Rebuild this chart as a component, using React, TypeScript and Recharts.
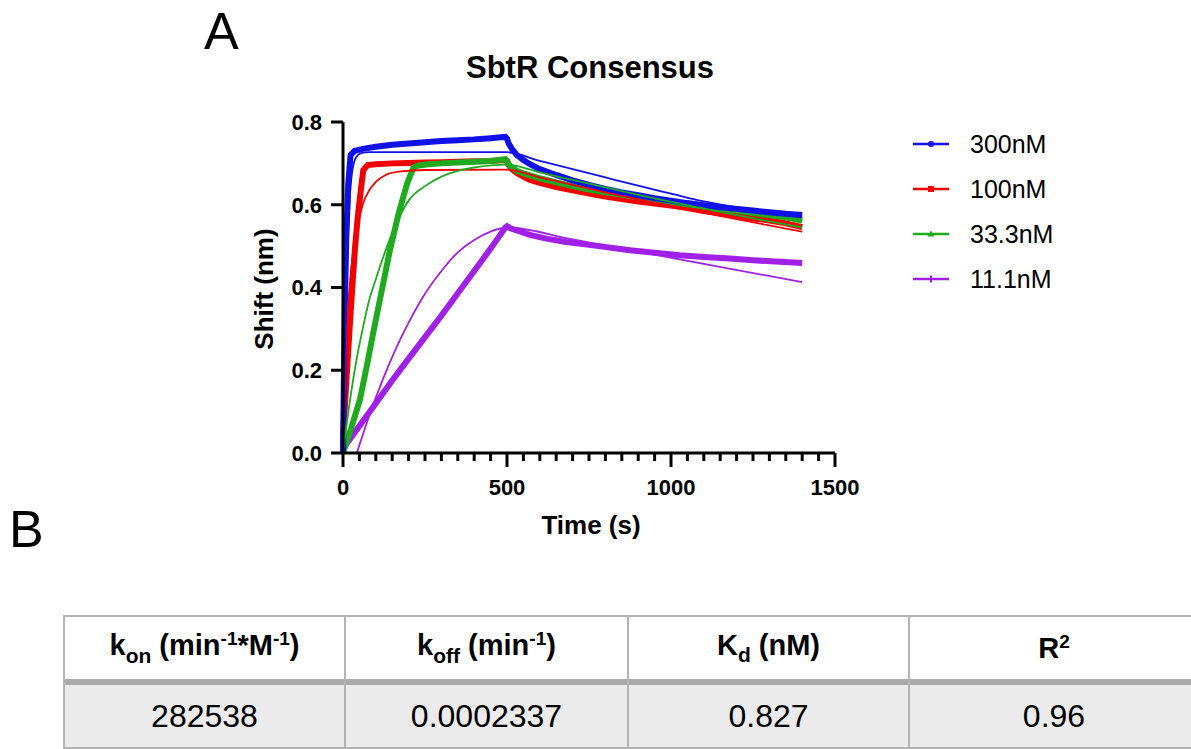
import React from "react";
import { LineChart, Line, XAxis, YAxis } from "recharts";

// measured traces (time s, shift nm)
const t300 = [0, 3, 6, 10, 16, 23, 35, 60, 100, 150, 200, 250, 300, 350, 400, 450, 480, 495, 500, 505, 515, 530, 550, 570, 600, 650, 700, 750, 800, 850, 900, 950, 1000, 1050, 1100, 1150, 1200, 1250, 1300, 1350, 1400];
const v300 = [0, 0.2, 0.37, 0.52, 0.65, 0.72, 0.73, 0.735, 0.74, 0.745, 0.748, 0.751, 0.754, 0.756, 0.758, 0.761, 0.763, 0.764, 0.76, 0.748, 0.735, 0.72, 0.708, 0.698, 0.686, 0.672, 0.659, 0.648, 0.638, 0.63, 0.623, 0.616, 0.61, 0.604, 0.599, 0.594, 0.59, 0.586, 0.582, 0.578, 0.575];

const t100 = [0, 1, 10, 20, 30, 37, 45, 55, 62, 75, 100, 150, 200, 250, 300, 350, 400, 450, 495, 500, 505, 515, 530, 550, 570, 600, 650, 700, 750, 800, 850, 900, 950, 1000, 1050, 1100, 1150, 1200, 1250, 1300, 1350, 1400];
const v100 = [0, 0.05, 0.17, 0.3, 0.42, 0.5, 0.57, 0.64, 0.684, 0.696, 0.698, 0.7, 0.701, 0.702, 0.703, 0.704, 0.705, 0.706, 0.708, 0.705, 0.697, 0.686, 0.677, 0.668, 0.66, 0.653, 0.643, 0.635, 0.627, 0.62, 0.614, 0.608, 0.603, 0.598, 0.592, 0.585, 0.579, 0.573, 0.567, 0.562, 0.555, 0.546];

const t33 = [0, 25, 52, 75, 92, 115, 143, 170, 195, 215, 230, 260, 300, 350, 400, 450, 495, 500, 505, 515, 530, 550, 570, 600, 650, 700, 750, 800, 850, 900, 950, 1000, 1050, 1100, 1150, 1200, 1250, 1300, 1350, 1400];
const v33 = [0, 0.06, 0.13, 0.22, 0.29, 0.38, 0.49, 0.58, 0.65, 0.69, 0.695, 0.698, 0.7, 0.702, 0.704, 0.706, 0.71, 0.706, 0.698, 0.69, 0.682, 0.676, 0.671, 0.664, 0.654, 0.645, 0.637, 0.63, 0.624, 0.618, 0.613, 0.607, 0.601, 0.596, 0.591, 0.586, 0.58, 0.575, 0.569, 0.562];

const t11 = [0, 50, 100, 150, 200, 250, 300, 350, 400, 450, 495, 500, 510, 530, 570, 620, 680, 720, 780, 875, 950, 1027, 1100, 1180, 1250, 1332, 1400];
const v11 = [0.01, 0.065, 0.12, 0.175, 0.228, 0.28, 0.332, 0.386, 0.44, 0.494, 0.545, 0.548, 0.543, 0.538, 0.527, 0.518, 0.51, 0.506, 0.5, 0.49, 0.484, 0.478, 0.474, 0.47, 0.466, 0.462, 0.459];

// global fit curves
const t300f = [0, 5, 10, 15, 20, 28, 40, 55, 80, 500, 600, 700, 800, 900, 1000, 1100, 1200, 1300, 1400];
const v300f = [0, 0.22, 0.4, 0.52, 0.61, 0.68, 0.715, 0.725, 0.727, 0.727, 0.706, 0.686, 0.666, 0.646, 0.627, 0.608, 0.594, 0.582, 0.571];

const t100f = [0, 5, 10, 20, 30, 45, 60, 80, 100, 130, 170, 250, 500, 600, 700, 800, 900, 1000, 1100, 1200, 1300, 1400];
const v100f = [0, 0.15, 0.27, 0.4, 0.48, 0.55, 0.6, 0.635, 0.655, 0.672, 0.68, 0.684, 0.685, 0.666, 0.648, 0.63, 0.613, 0.597, 0.581, 0.565, 0.55, 0.535];

const t33f = [0, 20, 40, 60, 80, 100, 130, 160, 200, 250, 300, 350, 400, 500, 600, 700, 800, 900, 1000, 1100, 1200, 1300, 1400];
const v33f = [0, 0.12, 0.22, 0.3, 0.37, 0.42, 0.49, 0.55, 0.61, 0.645, 0.668, 0.682, 0.69, 0.697, 0.678, 0.66, 0.642, 0.624, 0.607, 0.591, 0.575, 0.56, 0.545];

const t11f = [42, 80, 120, 160, 200, 250, 300, 350, 400, 450, 500, 700, 900, 1100, 1400];
const v11f = [0, 0.09, 0.175, 0.25, 0.315, 0.385, 0.44, 0.485, 0.515, 0.535, 0.545, 0.516, 0.487, 0.457, 0.413];

const yTicks = [0, 0.2, 0.4, 0.6, 0.8];
const xMajor = [0, 500, 1000, 1500];
const xTicks = Array.from({ length: 31 }, (_, i) => i * 50);

const headers = ["kon", "koff", "Kd", "R2"];
const values = ["282538", "0.0002337", "0.827", "0.96"];

const zip = (t: number[], v: number[]) => t.map((x, i) => ({ t: x, v: v[i] }));

const series = [
  { name: "11.1nM", color: "#a020e8", marker: "plus", data: zip(t11, v11), fit: zip(t11f, v11f) },
  { name: "100nM", color: "#f20000", marker: "square", data: zip(t100, v100), fit: zip(t100f, v100f) },
  { name: "33.3nM", color: "#1faa1f", marker: "triangle", data: zip(t33, v33), fit: zip(t33f, v33f) },
  { name: "300nM", color: "#1010e8", marker: "circle", data: zip(t300, v300), fit: zip(t300f, v300f) },
];
const legendOrder = ["300nM", "100nM", "33.3nM", "11.1nM"];

const FONT = '"Liberation Sans", Arial, Helvetica, sans-serif';

const XTick = (props: any) => {
  const { x, y, payload } = props;
  const major = xMajor.includes(payload.value);
  return (
    <g>
      <line x1={x} x2={x} y1={y} y2={y + (major ? 14 : 8)} stroke="#000" strokeWidth={3} />
      {major && (
        <text x={x} y={y + 42} textAnchor="middle" fontSize={22} fontWeight="bold" fill="#000" fontFamily={FONT}>
          {payload.value}
        </text>
      )}
    </g>
  );
};

function Marker({ kind, color }: { kind: string; color: string }) {
  if (kind === "square") return <rect x={15} y={4} width={6} height={6} fill={color} />;
  if (kind === "triangle") return <path d="M18 3.5 L21.5 9.5 L14.5 9.5 Z" fill={color} />;
  if (kind === "plus") return <path d="M18 3.5 V10.5" stroke={color} strokeWidth={2} />;
  return <circle cx={18} cy={7} r={3} fill={color} />;
}

function HeaderText({ k }: { k: string }) {
  const sub = { fontSize: 21, verticalAlign: "-0.35em" } as const;
  const sup = { fontSize: 19, verticalAlign: "0.55em" } as const;
  if (k === "kon")
    return (
      <span>k<span style={sub}>on</span> (min<span style={sup}>-1</span>*M<span style={sup}>-1</span>)</span>
    );
  if (k === "koff")
    return (
      <span>k<span style={sub}>off</span> (min<span style={sup}>-1</span>)</span>
    );
  if (k === "Kd")
    return (
      <span>K<span style={sub}>d</span> (nM)</span>
    );
  return (
    <span>R<span style={sup}>2</span></span>
  );
}

export default function App() {
  const colW = [281, 283, 281, 290];
  return (
    <div style={{ position: "absolute", left: 0, top: 0, width: 1191, height: 749, background: "#fff", fontFamily: FONT, color: "#000", overflow: "hidden" }}>
      <div style={{ position: "absolute", left: 204, top: 5, fontSize: 52, lineHeight: 1 }}>A</div>
      <div style={{ position: "absolute", left: 9, top: 503, fontSize: 52, lineHeight: 1 }}>B</div>
      <div style={{ position: "absolute", left: 390, width: 400, top: 52, fontSize: 31, lineHeight: 1, fontWeight: "bold", textAlign: "center" }}>
        SbtR Consensus
      </div>

      <div style={{ position: "absolute", left: 0, top: 0 }}>
        <LineChart width={900} height={560} margin={{ top: 122, right: 65, bottom: 47, left: 263 }}>
          <XAxis
            dataKey="t"
            type="number"
            domain={[0, 1500]}
            ticks={xTicks}
            interval={0}
            tick={<XTick />}
            tickLine={false}
            tickSize={0}
            tickMargin={0}
            height={60}
            axisLine={{ stroke: "#000", strokeWidth: 3 }}
            allowDuplicatedCategory={false}
          />
          <YAxis
            type="number"
            domain={[0, 0.8]}
            ticks={yTicks}
            width={80}
            tickSize={12}
            tickMargin={9}
            tickFormatter={(v: number) => v.toFixed(1)}
            tick={{ fontSize: 22, fontWeight: "bold", fill: "#000", fontFamily: FONT }}
            tickLine={{ stroke: "#000", strokeWidth: 3 }}
            axisLine={{ stroke: "#000", strokeWidth: 3 }}
          />
          {series.map((s) => (
            <Line
              key={s.name}
              data={s.data}
              dataKey="v"
              type="linear"
              stroke={s.color}
              strokeWidth={6}
              dot={false}
              isAnimationActive={false}
            />
          ))}
          {series.map((s) => (
            <Line
              key={s.name + "-fit"}
              data={s.fit}
              dataKey="v"
              type="monotone"
              stroke={s.color}
              strokeWidth={1.8}
              dot={false}
              isAnimationActive={false}
            />
          ))}
        </LineChart>
      </div>

      <div style={{ position: "absolute", left: 491, width: 200, top: 512, fontSize: 26, lineHeight: 1, fontWeight: "bold", textAlign: "center" }}>
        Time (s)
      </div>
      <div
        style={{
          position: "absolute", left: 164, top: 276, width: 200, height: 26, lineHeight: "26px",
          fontSize: 26, fontWeight: "bold", textAlign: "center", transform: "rotate(-90deg)", whiteSpace: "nowrap",
        }}
      >
        Shift (nm)
      </div>

      {legendOrder.map((name, i) => {
        const s = series.find((x) => x.name === name)!;
        return (
          <div key={name} style={{ position: "absolute", left: 913, top: 144 + i * 45 - 15, height: 30, display: "flex", alignItems: "center" }}>
            <svg width={36} height={14} style={{ display: "block" }}>
              <line x1={0} x2={36} y1={7} y2={7} stroke={s.color} strokeWidth={2.5} />
              <Marker kind={s.marker} color={s.color} />
            </svg>
            <span style={{ marginLeft: 21, fontSize: 25, lineHeight: 1 }}>{name}</span>
          </div>
        );
      })}

      <div style={{ position: "absolute", left: 63, top: 615, display: "flex", borderTop: "2px solid #b4b4b4", borderLeft: "2px solid #b4b4b4" }}>
        {headers.map((h, i) => (
          <div key={h} style={{ width: colW[i], boxSizing: "border-box", borderRight: "2px solid #b4b4b4" }}>
            <div style={{ height: 68, boxSizing: "border-box", borderBottom: "6px solid #ababab", display: "flex", alignItems: "center", justifyContent: "center", fontSize: 29, fontWeight: "bold" }}>
              <HeaderText k={h} />
            </div>
            <div style={{ height: 64, boxSizing: "border-box", background: "#ebebeb", borderBottom: "2px solid #b4b4b4", display: "flex", alignItems: "center", justifyContent: "center", fontSize: 32 }}>
              {values[i]}
            </div>
          </div>
        ))}
      </div>
    </div>
  );
}
